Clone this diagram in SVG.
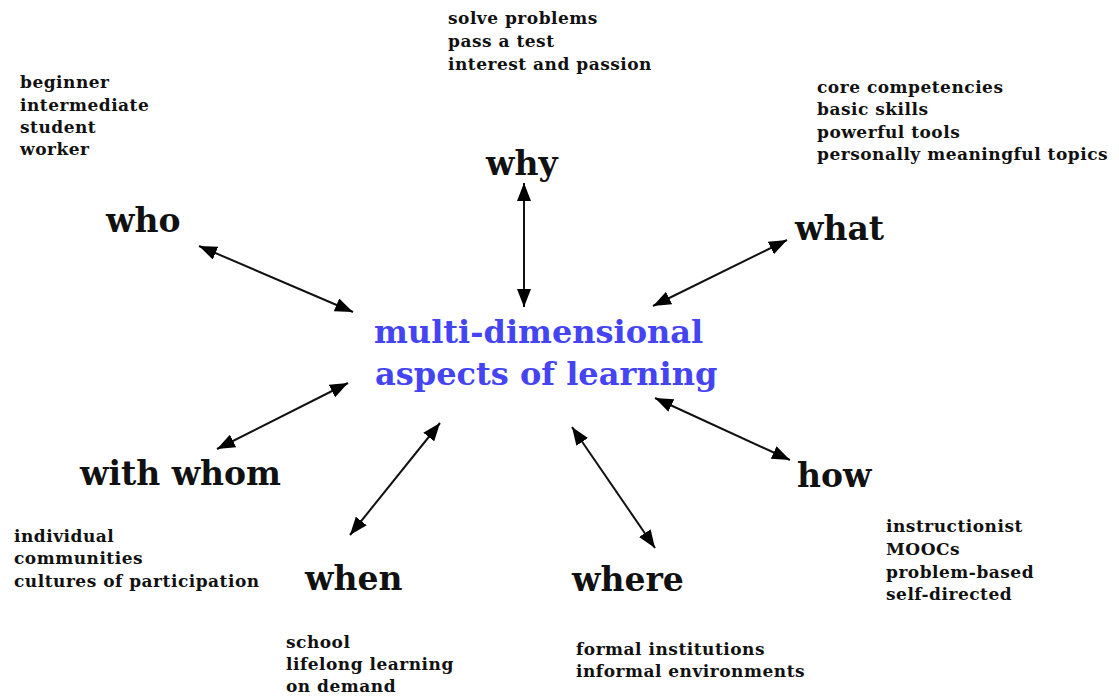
<svg xmlns="http://www.w3.org/2000/svg" width="1119" height="696" viewBox="0 0 1119 696">
<style>
text{font-family:"DejaVu Serif","Liberation Serif",serif;font-weight:bold;fill:#111}
.l{font-size:17px;letter-spacing:0.5px}
.h{font-size:33px}
.c{font-size:32px;fill:#4444f4}
.a{stroke:#111;stroke-width:2;fill:none;marker-start:url(#m);marker-end:url(#m)}
</style>
<defs>
<marker id="m" viewBox="0 0 18 14" refX="18" refY="7" markerWidth="18" markerHeight="14" markerUnits="userSpaceOnUse" orient="auto-start-reverse">
<path d="M0,0 L18,7 L0,14 Z" fill="#000"/>
</marker>
</defs>
<rect width="1119" height="696" fill="#fff"/>
<g id="connectors">
<line class="a" x1="199" y1="246" x2="353" y2="312"/>
<line class="a" x1="524" y1="183" x2="524" y2="307"/>
<line class="a" x1="787" y1="240" x2="653" y2="306"/>
<line class="a" x1="348" y1="383" x2="217" y2="449"/>
<line class="a" x1="440" y1="423" x2="350" y2="535"/>
<line class="a" x1="572" y1="427" x2="655" y2="548"/>
<line class="a" x1="655" y1="398" x2="790" y2="460"/>
</g>
<g id="center">
<text class="c" x="374" y="343">multi-dimensional</text>
<text class="c" x="375" y="385">aspects of learning</text>
</g>
<g id="who">
<text class="h" x="106" y="232">who</text>
<text class="l" x="20" y="88">beginner</text>
<text class="l" x="20" y="111">intermediate</text>
<text class="l" x="20" y="133">student</text>
<text class="l" x="20" y="155">worker</text>
</g>
<g id="why">
<text class="h" x="486" y="175">why</text>
<text class="l" x="448" y="24">solve problems</text>
<text class="l" x="448" y="47">pass a test</text>
<text class="l" x="448" y="70">interest and passion</text>
</g>
<g id="what">
<text class="h" x="795" y="240">what</text>
<text class="l" x="817" y="93">core competencies</text>
<text class="l" x="817" y="115">basic skills</text>
<text class="l" x="817" y="138">powerful tools</text>
<text class="l" x="817" y="160">personally meaningful topics</text>
</g>
<g id="withwhom">
<text class="h" x="80" y="485">with whom</text>
<text class="l" x="14" y="542">individual</text>
<text class="l" x="14" y="564">communities</text>
<text class="l" x="14" y="587">cultures of participation</text>
</g>
<g id="how">
<text class="h" x="797" y="487">how</text>
<text class="l" x="886" y="532">instructionist</text>
<text class="l" x="886" y="555">MOOCs</text>
<text class="l" x="886" y="578">problem-based</text>
<text class="l" x="886" y="600">self-directed</text>
</g>
<g id="when">
<text class="h" x="305" y="590">when</text>
<text class="l" x="286" y="648">school</text>
<text class="l" x="286" y="670">lifelong learning</text>
<text class="l" x="286" y="692">on demand</text>
</g>
<g id="where">
<text class="h" x="572" y="591">where</text>
<text class="l" x="576" y="655">formal institutions</text>
<text class="l" x="576" y="677">informal environments</text>
</g>
</svg>
